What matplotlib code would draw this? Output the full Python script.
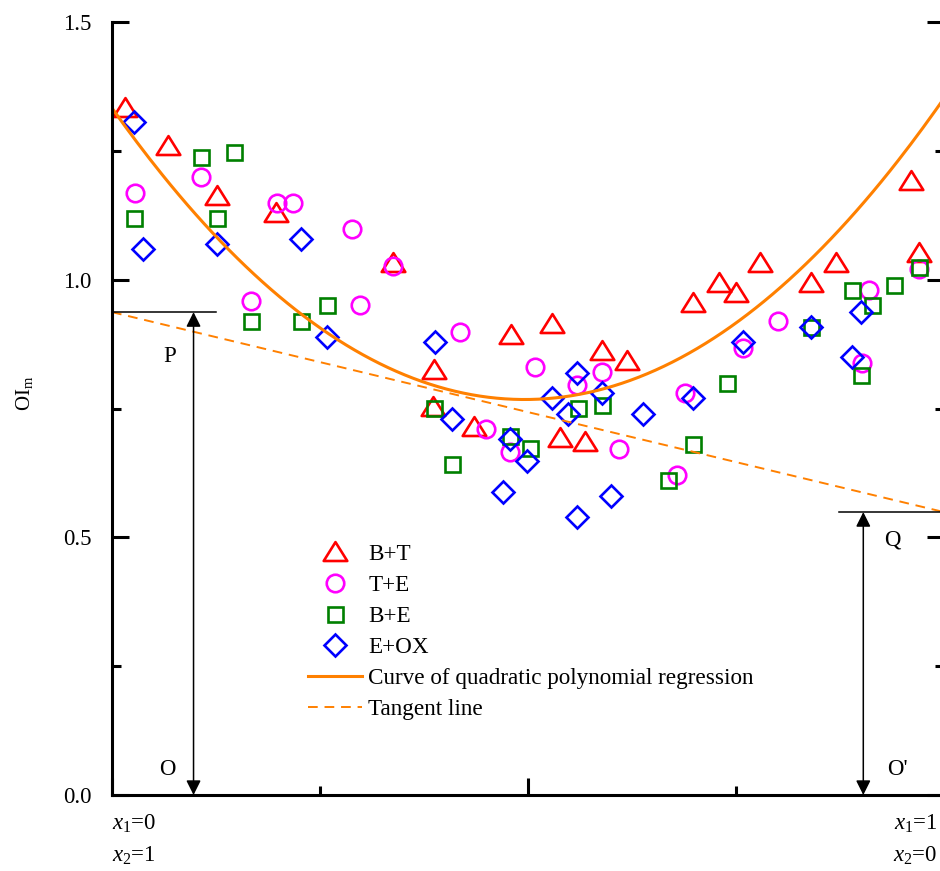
import numpy as np
import matplotlib.pyplot as plt
from matplotlib.path import Path
from matplotlib.ticker import MultipleLocator

plt.rcParams['font.family'] = 'Liberation Serif'
plt.rcParams['mathtext.fontset'] = 'custom'
plt.rcParams['mathtext.rm'] = 'Liberation Serif'
plt.rcParams['mathtext.it'] = 'Liberation Serif:italic'

# Datos
bt_x = [0.016, 0.067, 0.126, 0.197, 0.338, 0.387, 0.386, 0.435, 0.480, 0.529, 0.538,
        0.569, 0.589, 0.619, 0.698, 0.730, 0.750, 0.779, 0.840, 0.870, 0.960, 0.970]
bt_y = [1.333, 1.259, 1.163, 1.129, 1.032, 0.825, 0.753, 0.714, 0.893, 0.914, 0.693,
        0.685, 0.862, 0.842, 0.955, 0.994, 0.974, 1.032, 0.994, 1.032, 1.192, 1.052]

te_x = [0.028, 0.107, 0.198, 0.218, 0.167, 0.288, 0.338, 0.298, 0.418, 0.508, 0.450,
        0.478, 0.559, 0.589, 0.609, 0.679, 0.689, 0.758, 0.800, 0.910, 0.901, 0.970]
te_y = [1.168, 1.199, 1.149, 1.149, 0.959, 1.098, 1.027, 0.951, 0.898, 0.831, 0.710,
        0.665, 0.796, 0.821, 0.671, 0.621, 0.780, 0.867, 0.920, 0.980, 0.838, 1.021]

be_x = [0.026, 0.107, 0.147, 0.126, 0.167, 0.227, 0.258, 0.387, 0.409, 0.478, 0.502,
        0.560, 0.589, 0.668, 0.698, 0.739, 0.840, 0.889, 0.913, 0.900, 0.940, 0.970]
be_y = [1.120, 1.238, 1.248, 1.120, 0.920, 0.920, 0.951, 0.751, 0.642, 0.696, 0.673,
        0.751, 0.757, 0.611, 0.681, 0.800, 0.908, 0.980, 0.951, 0.815, 0.990, 1.025]

eo_x = [0.026, 0.037, 0.126, 0.227, 0.258, 0.388, 0.409, 0.470, 0.478, 0.499, 0.529,
        0.548, 0.559, 0.559, 0.589, 0.600, 0.638, 0.698, 0.758, 0.840, 0.900, 0.889]
eo_y = [1.306, 1.060, 1.069, 1.079, 0.889, 0.879, 0.730, 0.588, 0.691, 0.648, 0.770,
        0.739, 0.819, 0.540, 0.780, 0.580, 0.739, 0.770, 0.879, 0.908, 0.937, 0.850]

# Coeficientes de la regresion cuadratica (a, b, c)
reg_coef = [2.30, -2.281, 1.333]

# Recta tangente: valores en P (x1=0) y Q (x1=1)
tan_x = [0.0, 1.0]
tan_y = [0.937, 0.549]

orange = '#FF8000'
fs = 16.5
tri = Path([(-1, -0.72), (1, -0.72), (0, 0.88), (-1, -0.72)],
           [Path.MOVETO, Path.LINETO, Path.LINETO, Path.CLOSEPOLY])

fig = plt.figure(figsize=(9.4, 8.71), dpi=100)
ax = fig.add_axes([112 / 940, 76 / 871, 832 / 940, 773 / 871])

ax.plot(bt_x, bt_y, ls='none', marker=tri, ms=17, mfc='none', mec='red', mew=1.9, label='B+T')
ax.plot(te_x, te_y, ls='none', marker='o', ms=12.6, mfc='none', mec='#FF00FF', mew=1.9, label='T+E')
ax.plot(be_x, be_y, ls='none', marker='s', ms=10.8, mfc='none', mec='#008000', mew=1.9, label='B+E')
ax.plot(eo_x, eo_y, ls='none', marker='D', ms=11.2, mfc='none', mec='#0000FF', mew=1.9, label='E+OX')

xs = np.linspace(0, 1, 200)
ax.plot(xs, np.polyval(reg_coef, xs), color=orange, lw=2.2,
        label='Curve of quadratic polynomial regression')
ax.plot(tan_x, tan_y, color=orange, lw=1.4, dashes=(5, 3.5), label='Tangent line')

# Lineas y flechas P-O y Q-O'
ax.plot([0, 0.125], [tan_y[0], tan_y[0]], color='black', lw=1.1)
ax.plot([0.874, 1.0], [tan_y[1], tan_y[1]], color='black', lw=1.1)
arrow = dict(arrowstyle='<|-|>', color='black', lw=1.1, mutation_scale=22, shrinkA=0, shrinkB=0)
ax.annotate('', xy=(0.098, tan_y[0]), xytext=(0.098, 0.0), arrowprops=arrow)
ax.annotate('', xy=(0.903, tan_y[1]), xytext=(0.903, 0.0), arrowprops=arrow)

ax.text(0.069, 0.850, 'P', fontsize=fs, ha='center', va='center')
ax.text(0.066, 0.049, 'O', fontsize=fs, ha='center', va='center')
ax.text(0.938, 0.495, 'Q', fontsize=fs, ha='center', va='center')
ax.text(0.944, 0.049, "O'", fontsize=fs, ha='center', va='center')

ax.set_xlim(0, 1)
ax.set_ylim(0, 1.5)
ax.xaxis.set_major_locator(MultipleLocator(0.5))
ax.xaxis.set_minor_locator(MultipleLocator(0.25))
ax.yaxis.set_major_locator(MultipleLocator(0.5))
ax.yaxis.set_minor_locator(MultipleLocator(0.25))
ax.yaxis.set_major_formatter(plt.FormatStrFormatter('%.1f'))
ax.tick_params(which='both', direction='in', width=2.2, right=True, top=False)
ax.tick_params(which='major', length=12)
ax.tick_params(which='minor', length=6.5)
ax.tick_params(axis='y', labelsize=fs, pad=15)
ax.tick_params(axis='x', labelbottom=False)
ax.spines['top'].set_visible(False)
for s in ['left', 'bottom', 'right']:
    ax.spines[s].set_linewidth(2.2)

ax.set_ylabel(r'OI$_\mathrm{m}$', fontsize=15)
ax.yaxis.set_label_coords(-0.093, 0.52)

# Etiquetas de los extremos del eje x
ax.text(0.0, -0.037, r'$x_1$=0', transform=ax.transAxes, fontsize=fs, ha='left', va='center')
ax.text(0.0, -0.079, r'$x_2$=1', transform=ax.transAxes, fontsize=fs, ha='left', va='center')
ax.text(0.9925, -0.037, r'$x_1$=1', transform=ax.transAxes, fontsize=fs, ha='right', va='center')
ax.text(0.9925, -0.079, r'$x_2$=0', transform=ax.transAxes, fontsize=fs, ha='right', va='center')

ax.legend(loc='upper left', bbox_to_anchor=(0.2356, 0.325), frameon=False, fontsize=16.7,
          numpoints=1, handlelength=2.33, handletextpad=0.26, labelspacing=0.424,
          borderpad=0, borderaxespad=0)

fig.savefig('out.png', dpi=100)
